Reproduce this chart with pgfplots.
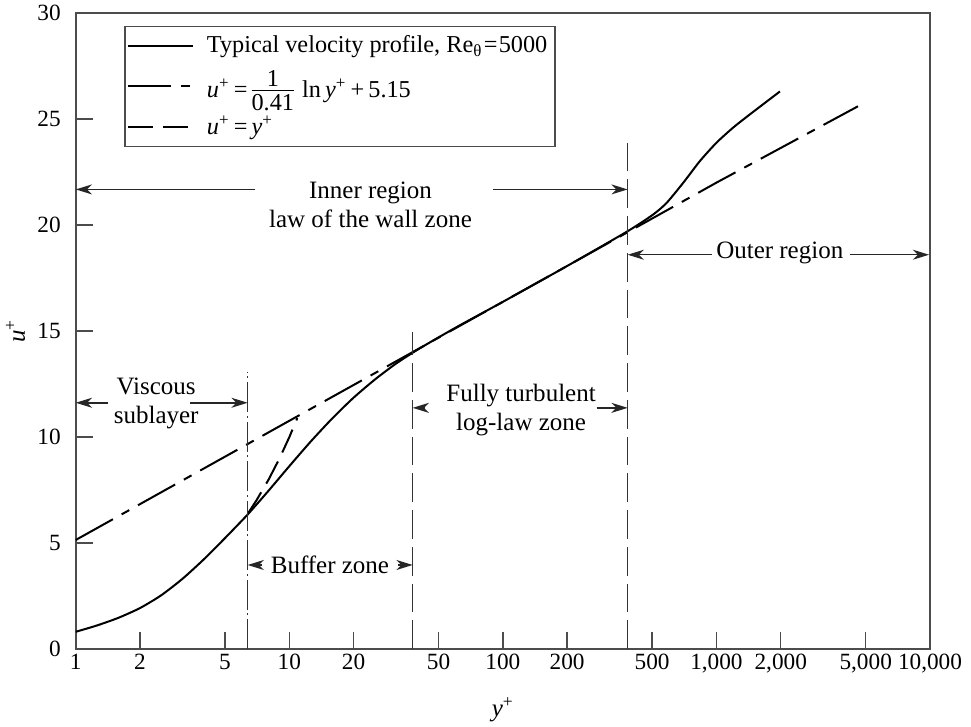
\documentclass[border=0pt]{standalone}
\usepackage{fontspec}
\setmainfont{Liberation Serif}
\usepackage{pgfplots}
\pgfplotsset{compat=1.18}
\usetikzlibrary{arrows.meta}
% compact fraction set in the text font
\newcommand{\cfrac}[2]{\ensuremath{\vcenter{\offinterlineskip\halign{\hfil##\hfil\cr
  \vphantom{0}#1\cr\noalign{\kern1.3pt\hrule height 0.4pt\kern1.3pt}\vphantom{0}#2\cr}}}}

\begin{document}
\fontsize{10}{12}\selectfont
\begin{tikzpicture}[
  ann/.style={font=\fontsize{10}{11.6}\selectfont, align=center, inner sep=1pt},
  arr/.style={-{Stealth[length=6.5pt,width=4pt,inset=2pt]}, line width=0.6pt, black!85},
  vline/.style={black!80, line width=0.5pt},
]
\begin{axis}[
  scale only axis, width=341.6pt, height=254.4pt,
  xmode=log, xmin=1, xmax=10000, ymin=0, ymax=30,
  xtick={1,2,5,10,20,50,100,200,500,1000,2000,5000,10000},
  xticklabels={1,2,5,10,20,50,100,200,500,{1,000},{2,000},{5,000},{10,000}},
  xminorticks=false,
  ytick={0,5,10,15,20,25,30},
  xtick pos=bottom, ytick pos=left,
  tick align=inside, major tick length=7pt,
  axis line style={black!70, line width=0.6pt},
  every tick/.style={black!70, line width=0.6pt},
  tick label style={font=\fontsize{9.3}{11}\selectfont},
  xticklabel style={yshift=1.5pt},
  yticklabel style={xshift=-2.5pt},
  /pgf/number format/assume math mode=true,
  xlabel={\textit{y}\textsuperscript{+}},
  ylabel={\textit{u}\textsuperscript{+}},
  xlabel style={yshift=-3pt},
  ylabel style={yshift=-2pt},
  label style={font=\fontsize{10}{12}\selectfont},
  clip=false,
  legend image code/.code={\draw[#1] (0pt,0pt) -- (26pt,0pt); \path (29pt,0pt);},
  legend style={at={(0.0566,0.9796)}, anchor=north west, draw=black!70,
    line width=0.6pt, cells={anchor=west, inner ysep=1pt, inner xsep=3pt},
    font=\fontsize{9.7}{11.5}\selectfont,
    inner xsep=1pt, inner ysep=1.5pt, row sep=1.8pt},
]
% typical velocity profile, Re_theta = 5000
\addplot[black, line width=0.8pt, smooth, tension=0.4] coordinates {
  (1,0.82) (1.259,1.12) (1.585,1.48) (2,1.94) (2.512,2.54) (3.162,3.32)
  (3.981,4.24) (5.012,5.25) (6.38,6.35) (7.943,7.44) (10,8.63) (12.59,9.79)
  (15.85,10.87) (19.95,11.85) (25.12,12.71) (31.62,13.47) (39.81,14.12)
  (50.12,14.71) (63.1,15.28) (100,16.38) (200,18.07) (384,19.71)
  (506,20.5) (585,21.05) (700,22.0) (837,23.02) (1002,23.89) (1199,24.6)
  (1435,25.22) (1983,26.3)
};
\addlegendentry{Typical velocity profile, Re\textsubscript{θ}\kern0.5pt=\kern0.5pt5000}
% log law
\addplot[black, line width=0.8pt, dash pattern=on 17pt off 4pt on 3.5pt off 4pt] coordinates {
  (1,5.15) (10,10.77) (100,16.38) (1000,22.00) (4600,25.6)
};
\addlegendentry{\textit{u}\textsuperscript{+}\,=\,\cfrac{1}{0.41}\,\,ln\,\textit{y}\textsuperscript{+}\,+\,5.15}
% u+ = y+
\addplot[black, line width=0.8pt, dash pattern=on 10pt off 4pt] coordinates {
  (6.4,6.4) (7,7) (8,8) (9,9) (10,10) (10.9,10.9)
};
\addlegendentry{\textit{u}\textsuperscript{+}\,=\,\textit{y}\textsuperscript{+}\rule[-4.5pt]{0pt}{0pt}}
% zone boundaries
\addplot[vline, forget plot, dash pattern=on 12pt off 1.5pt on 0.8pt off 1.5pt] coordinates {(6.38,0) (6.38,13.05)};
\addplot[vline, forget plot, dash pattern=on 11.5pt off 3.2pt] coordinates {(37.8,0) (37.8,14.95)};
\addplot[vline, forget plot, dash pattern=on 11.5pt off 3.2pt] coordinates {(384,0) (384,24.2)};

\node[ann] at (axis cs:24,20.97) {Inner region\\law of the wall zone};
\draw[arr] (axis cs:6.93,21.68) -- (axis cs:1,21.68);
\draw[arr] (axis cs:90,21.68) -- (axis cs:384,21.68);

\node[ann] at (axis cs:1980,18.7) {Outer region};
\draw[arr] (axis cs:953,18.6) -- (axis cs:384,18.6);
\draw[arr] (axis cs:4210,18.6) -- (axis cs:9900,18.6);

\node[ann] at (axis cs:2.38,11.57) {Viscous\\sublayer};
\draw[arr] (axis cs:1.42,11.62) -- (axis cs:1,11.62);
\draw[arr] (axis cs:3.43,11.62) -- (axis cs:6.38,11.62);

\node[ann] at (axis cs:121.7,11.29) {Fully turbulent\\log-law zone};
\draw[arr] (axis cs:43.2,11.38) -- (axis cs:37.8,11.38);
\draw[arr] (axis cs:275,11.38) -- (axis cs:384,11.38);

\node[ann] at (axis cs:15.5,3.97) {Buffer zone};
\draw[arr] (axis cs:7.45,3.97) -- (axis cs:6.38,3.97);
\draw[arr] (axis cs:32.3,3.97) -- (axis cs:37.8,3.97);
\end{axis}
\pgfresetboundingbox
\path[use as bounding box] ([xshift=-30.3pt,yshift=-30.8pt]current axis.south west)
  rectangle ([xshift=16.4pt,yshift=5.2pt]current axis.north east);
\end{tikzpicture}
\end{document}
